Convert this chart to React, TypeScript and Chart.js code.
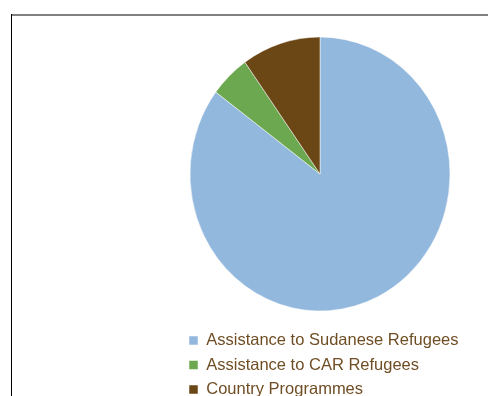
import React, { useEffect, useRef } from "react";
import { Chart, registerables } from "chart.js";

Chart.register(...registerables);

const categories = [
  "Assistance to Sudanese Refugees",
  "Assistance to CAR Refugees",
  "Country Programmes",
];
const shares = [85.2, 5.0, 9.8];
const sliceColors = ["#93B8DD", "#6BA84F", "#6B4716"];
const legendTextColor = "#6f4e25";

const stretchPlugin = {
  id: "stretchPie",
  beforeDatasetsDraw(chart: any) {
    const { ctx, chartArea } = chart;
    const cx = (chartArea.left + chartArea.right) / 2;
    const cy = (chartArea.top + chartArea.bottom) / 2;
    ctx.save();
    ctx.translate(cx, cy);
    ctx.scale(1, 137 / 130);
    ctx.translate(-cx, -cy);
  },
  afterDatasetsDraw(chart: any) {
    chart.ctx.restore();
  },
};

export default function App() {
  const ref = useRef<HTMLCanvasElement | null>(null);
  useEffect(() => {
    if (!ref.current) return;
    const chart = new Chart(ref.current, {
      type: "pie",
      data: {
        labels: categories,
        datasets: [
          {
            data: shares,
            backgroundColor: sliceColors,
            borderColor: "#ffffff",
            borderWidth: 0.5,
          },
        ],
      },
      options: {
        responsive: false,
        animation: false,
        radius: 130,
        layout: { padding: { left: 181, right: 29, top: 23.75, bottom: 0.25 } },
        plugins: {
          tooltip: { enabled: false },
          legend: {
            position: "bottom",
            align: "start",
            labels: {
              boxWidth: 9,
              boxHeight: 9,
              padding: 8,
              color: legendTextColor,
              font: { family: "'Liberation Sans', Arial, sans-serif", size: 16.5 },
            },
          },
        },
      } as any,
      plugins: [stretchPlugin],
    });
    return () => chart.destroy();
  }, []);
  return (
    <div
      style={{
        position: "fixed",
        left: 0,
        top: 0,
        width: 488,
        height: 396,
        overflow: "hidden",
        background: "#ffffff",
      }}
    >
      <canvas ref={ref} width={488} height={408} style={{ position: "absolute", left: 0, top: 0 }} />
      <div style={{ position: "absolute", left: 11, top: 14, width: 477, height: 2, background: "#808080" }} />
      <div style={{ position: "absolute", left: 11, top: 14, width: 1, height: 382, background: "#000000" }} />
    </div>
  );
}
